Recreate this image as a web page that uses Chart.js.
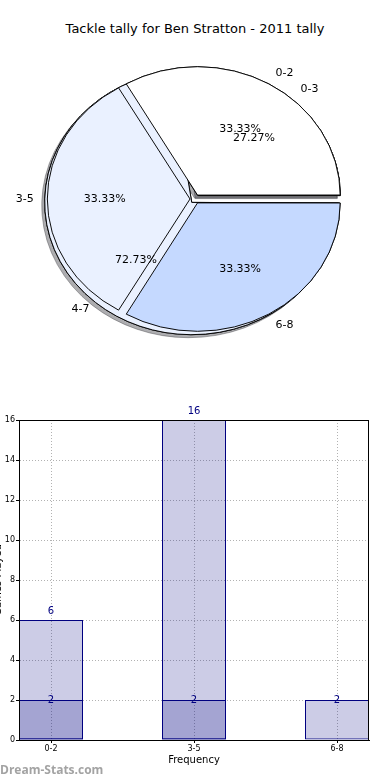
<!DOCTYPE html>
<html>
<head>
<meta charset="utf-8">
<script src="https://cdn.jsdelivr.net/npm/chart.js@4.4.0/dist/chart.umd.min.js"></script>
<style>
  body { margin: 0; background: #fff; width: 390px; height: 780px; position: relative; overflow: hidden; }
  canvas { position: absolute; }
  #titulo { position: absolute; left: 0; width: 390px; top: 21px; text-align: center;
            font: 13px "DejaVu Sans", sans-serif; color: #000; }
  #marca { position: absolute; left: 0; top: 761px; font: bold 12px "Open Sans", sans-serif; color: #a3a3a3; }
</style>
</head>
<body>
<div id="titulo">Tackle tally for Ben Stratton - 2011 tally</div>
<canvas id="sombraBajo" width="390" height="380" style="left:0;top:0"></canvas>
<canvas id="sombraAlto" width="390" height="380" style="left:0;top:0"></canvas>
<canvas id="pieBajo" width="390" height="380" style="left:0;top:0"></canvas>
<canvas id="pieAlto" width="390" height="380" style="left:0;top:0"></canvas>
<canvas id="barras" width="400" height="400" style="left:-10px;top:380px"></canvas>
<div id="marca">Dream-Stats.com</div>
<script>
// datos de las tortas
var pieAltoLabels = ['0-2', '3-5', '6-8'];
var pieAltoValues = [2, 2, 2];
var pieBajoLabels = ['0-3', '4-7'];
var pieBajoValues = [6, 16];

// datos de las barras
var barCategorias = ['0-2', '3-5', '6-8'];
var barSerieA = [2, 2, 2];
var barSerieB = [6, 16, null];

var APLASTE = 0.9; // la torta original es una elipse
var fuente = '"DejaVu Sans", sans-serif';

// aplasta la torta verticalmente (y opcionalmente sombra)
function aplastar(conSombra) {
    return {
        id: 'aplastar',
        beforeDatasetsDraw: function (chart) {
            var ctx = chart.ctx, a = chart.chartArea;
            var cx = (a.left + a.right) / 2, cy = (a.top + a.bottom) / 2;
            ctx.save();
            ctx.translate(cx, cy);
            ctx.scale(1, APLASTE);
            ctx.translate(-cx, -cy);
            if (conSombra) {
                ctx.shadowColor = 'rgba(60,60,66,0.42)';
                ctx.shadowOffsetX = -3;
                ctx.shadowOffsetY = 3;
                ctx.shadowBlur = 0;
            }
        },
        afterDatasetsDraw: function (chart) {
            chart.ctx.restore();
        }
    };
}

function opcionesTorta() {
    return {
        responsive: false,
        animation: false,
        events: [],
        rotation: 90,
        layout: { padding: { left: 48, right: 48, top: 52, bottom: 34 } },
        plugins: { legend: { display: false }, tooltip: { enabled: false } }
    };
}

function tortaBaja(id, sombra) {
    return new Chart(document.getElementById(id), {
        type: 'pie',
        data: {
            labels: pieBajoLabels.slice().reverse(),
            datasets: [{
                data: pieBajoValues.slice().reverse(),
                backgroundColor: ['#eaf1ff', '#ffffff'],
                borderColor: '#000',
                borderWidth: 1,
                radius: 142,
                offset: 20
            }]
        },
        options: opcionesTorta(),
        plugins: [aplastar(sombra)]
    });
}

function tortaAlta(id, sombra, extra) {
    return new Chart(document.getElementById(id), {
        type: 'pie',
        data: {
            labels: pieAltoLabels.slice().reverse(),
            datasets: [{
                data: pieAltoValues.slice().reverse(),
                backgroundColor: ['#c5d9ff', '#eaf1ff', '#ffffff'],
                borderColor: '#000',
                borderWidth: 1,
                radius: 142,
                offset: 20
            }]
        },
        options: opcionesTorta(),
        plugins: [aplastar(sombra)].concat(extra || [])
    });
}

// primero todas las sombras, luego las cuñas
tortaBaja('sombraBajo', true);
tortaAlta('sombraAlto', true);
var pieBajo = tortaBaja('pieBajo', false);

// textos de ambas tortas, encima de todo
var textosTorta = {
    id: 'textosTorta',
    afterDraw: function (chart) {
        var ctx = chart.ctx;
        ctx.save();
        ctx.font = '11px ' + fuente;
        ctx.fillStyle = '#000';
        [pieBajo, chart].forEach(function (c) {
            var meta = c.getDatasetMeta(0);
            var vals = c.data.datasets[0].data;
            var total = vals.reduce(function (s, v) { return s + v; }, 0);
            meta.data.forEach(function (arc, i) {
                var p = arc.getProps(['x', 'y', 'startAngle', 'endAngle', 'outerRadius']);
                var mid = (p.startAngle + p.endAngle) / 2;
                var off = (arc.options.offset || 0) / 4;
                var pos = function (f) {
                    var d = off + p.outerRadius * f;
                    return [p.x + Math.cos(mid) * d, p.y + APLASTE * Math.sin(mid) * d];
                };
                ctx.textBaseline = 'middle';
                var q = pos(0.6);
                ctx.textAlign = 'center';
                ctx.fillText((vals[i] / total * 100).toFixed(2) + '%', q[0], q[1]);
                var e = pos(1.1);
                ctx.textAlign = Math.cos(mid) > 0 ? 'left' : 'right';
                ctx.fillText(c.data.labels[i], e[0], e[1]);
            });
        });
        ctx.restore();
    }
};

var pieAlto = tortaAlta('pieAlto', false, [textosTorta]);

// marco completo y numeros sobre las barras
var marco = {
    id: 'marco',
    afterDatasetsDraw: function (chart) {
        var ctx = chart.ctx, a = chart.chartArea;
        ctx.save();
        ctx.strokeStyle = '#000';
        ctx.lineWidth = 1;
        ctx.strokeRect(a.left + 0.5, a.top + 0.5, a.right - a.left - 1, a.bottom - a.top);
        ctx.font = '10px ' + fuente;
        ctx.fillStyle = '#000080';
        ctx.textAlign = 'center';
        ctx.textBaseline = 'middle';
        chart.data.datasets.forEach(function (ds, di) {
            chart.getDatasetMeta(di).data.forEach(function (bar, i) {
                var v = ds.data[i].y;
                if (v == null) return;
                var dy = ds.etiquetaArriba ? -9 : 0;
                ctx.fillText(String(v), bar.x, bar.y + dy);
            });
        });
        ctx.restore();
    }
};

function aPuntos(serie) {
    return serie.map(function (v, i) { return { x: i, y: v }; });
}

var estiloBarra = {
    backgroundColor: 'rgba(0,0,128,0.2)',
    borderColor: '#000080',
    borderWidth: 1,
    borderSkipped: false,
    inflateAmount: 0,
    grouped: false,
    barThickness: 64
};

var barras = new Chart(document.getElementById('barras'), {
    type: 'bar',
    data: {
        datasets: [
            Object.assign({ data: aPuntos(barSerieB), etiquetaArriba: true }, estiloBarra),
            Object.assign({ data: aPuntos(barSerieA) }, estiloBarra)
        ]
    },
    options: {
        responsive: false,
        animation: false,
        events: [],
        layout: { padding: { left: 0, right: 21, top: 40, bottom: 0 } },
        plugins: { legend: { display: false }, tooltip: { enabled: false } },
        scales: {
            x: {
                type: 'linear',
                offset: false,
                min: -32 / 143,
                max: 350 / 143 - 32 / 143,
                afterBuildTicks: function (scale) {
                    scale.ticks = barCategorias.map(function (c, i) { return { value: i }; });
                },
                afterFit: function (scale) { scale.height = 40; },
                ticks: {
                    callback: function (v) { return barCategorias[v]; },
                    font: { family: fuente, size: 8 },
                    color: '#000',
                    padding: 1,
                    maxRotation: 0
                },
                grid: { offset: false, color: 'rgba(0,0,0,0.3)', tickLength: 3, tickColor: '#000' },
                border: { color: '#000', dash: [1, 2] },
                title: {
                    display: true,
                    text: 'Frequency',
                    font: { family: fuente, size: 10 },
                    color: '#000',
                    padding: { top: 0, bottom: 14 }
                }
            },
            y: {
                min: 0,
                max: 16,
                afterFit: function (scale) { scale.width = 29; },
                ticks: {
                    stepSize: 2,
                    font: { family: fuente, size: 8 },
                    color: '#000',
                    padding: 1
                },
                grid: { color: 'rgba(0,0,0,0.3)', tickLength: 3, tickColor: '#000' },
                border: { color: '#000', dash: [1, 2] },
                title: {
                    display: true,
                    text: 'Games Played',
                    font: { family: fuente, size: 10 },
                    color: '#000',
                    padding: { top: 2, bottom: 0 }
                }
            }
        }
    },
    plugins: [marco]
});
</script>
</body>
</html>
